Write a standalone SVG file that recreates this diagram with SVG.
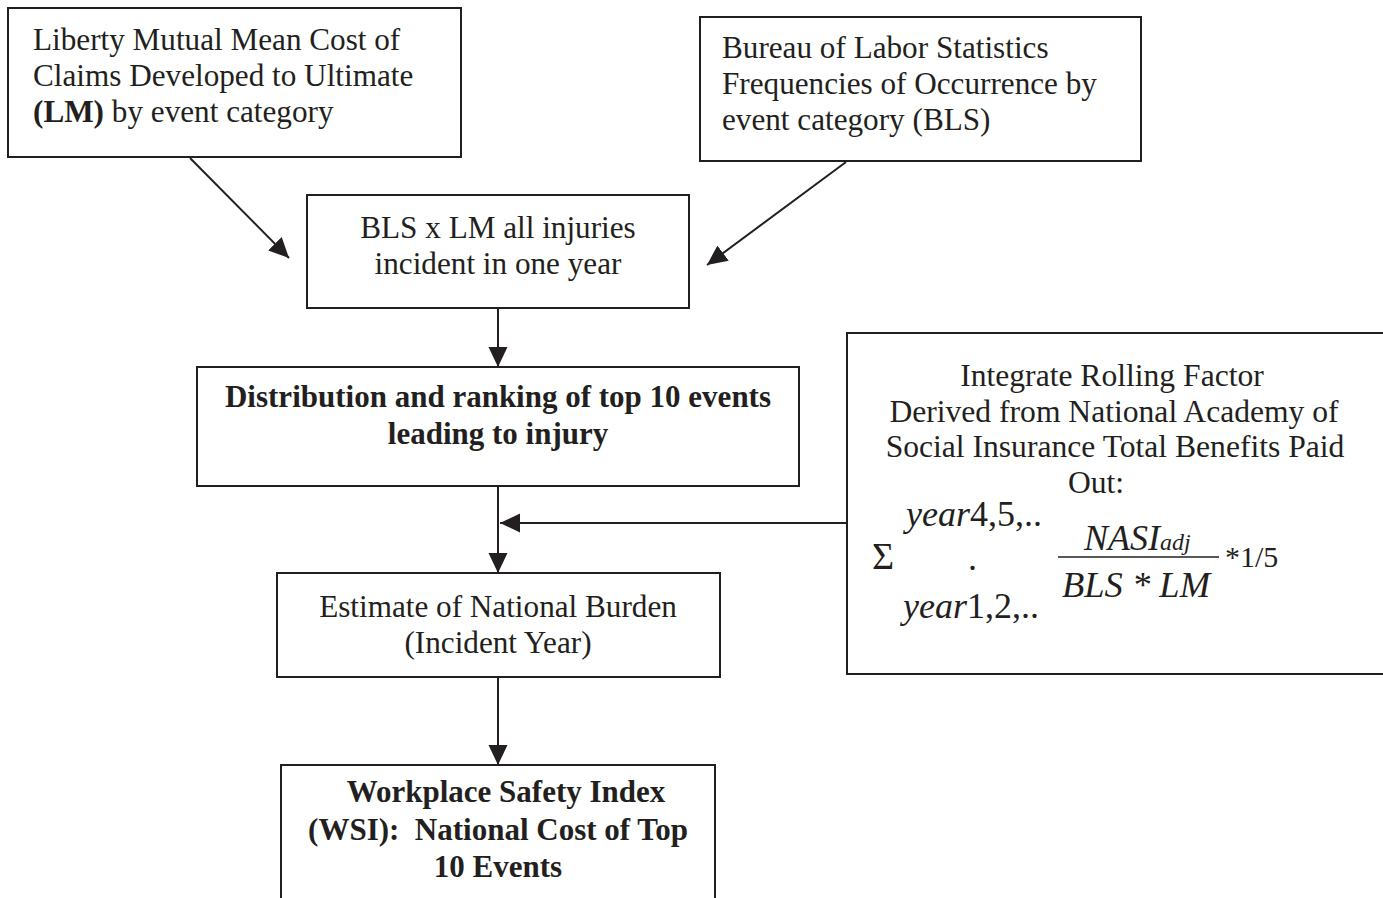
<svg xmlns="http://www.w3.org/2000/svg" width="1383" height="898" viewBox="0 0 1383 898">
<style>
.box{fill:#fff;stroke:#231f20;stroke-width:2}
.t{font-family:"Liberation Serif","Times New Roman",serif;font-size:31.2px;fill:#231f20}
.b{font-weight:bold;font-size:31px}
.c{text-anchor:middle}
.i{font-style:italic}
.con{stroke:#231f20;stroke-width:2;fill:none;marker-end:url(#ah)}
</style>
<defs>
<marker id="ah" markerUnits="userSpaceOnUse" markerWidth="21" markerHeight="20" refX="20" refY="9.5" orient="auto">
<path d="M0,0 L20,9.5 L0,19 z" fill="#231f20"/>
</marker>
</defs>
<rect width="1383" height="898" fill="#fff"/>
<g id="n-lm">
<rect class="box" x="8" y="8" width="453" height="149"/>
<text class="t" x="33" y="50">Liberty Mutual Mean Cost of</text>
<text class="t" x="33" y="86">Claims Developed to Ultimate</text>
<text class="t" x="33" y="122"><tspan font-weight="bold">(LM)</tspan> by event category</text>
</g>
<g id="n-bls">
<rect class="box" x="700" y="17" width="441" height="144"/>
<text class="t" x="722" y="58">Bureau of Labor Statistics</text>
<text class="t" x="722" y="94">Frequencies of Occurrence by</text>
<text class="t" x="722" y="130">event category (BLS)</text>
</g>
<g id="n-product">
<rect class="box" x="307" y="195" width="382" height="113"/>
<text class="t c" x="498" y="238">BLS x LM all injuries</text>
<text class="t c" x="498" y="274">incident in one year</text>
</g>
<g id="n-dist">
<rect class="box" x="197" y="367" width="602" height="119"/>
<text class="t b c" x="498" y="407">Distribution and ranking of top 10 events</text>
<text class="t b c" x="498" y="444">leading to injury</text>
</g>
<g id="n-factor">
<rect class="box" x="847" y="333" width="560" height="341"/>
<text class="t c" x="1112" y="386" style="font-size:31.6px">Integrate Rolling Factor</text>
<text class="t c" x="1114" y="422" style="font-size:31.6px">Derived from National Academy of</text>
<text class="t c" x="1115" y="457" style="font-size:31.6px">Social Insurance Total Benefits Paid</text>
<text class="t c" x="1096" y="493" style="font-size:31.6px">Out:</text>
<text class="t" x="872" y="569" style="font-size:38px">Σ</text>
<text class="t" x="906" y="526" style="font-size:36px"><tspan class="i">year</tspan>4,5,..</text>
<text class="t" x="968" y="570" style="font-size:36px">.</text>
<text class="t" x="903" y="618" style="font-size:36px"><tspan class="i">year</tspan>1,2,..</text>
<text class="t i" x="1084" y="550" style="font-size:36px">NASI<tspan style="font-size:24px">adj</tspan></text>
<line x1="1058" y1="557" x2="1219" y2="557" stroke="#231f20" stroke-width="1.5"/>
<text class="t i" x="1062" y="597" style="font-size:36.5px">BLS * LM</text>
<text class="t" x="1225" y="567" style="font-size:30px">*1/5</text>
</g>
<g id="n-burden">
<rect class="box" x="277" y="573" width="443" height="104"/>
<text class="t c" x="498" y="617">Estimate of National Burden</text>
<text class="t c" x="498" y="653">(Incident Year)</text>
</g>
<g id="n-wsi">
<rect class="box" x="281" y="765" width="434" height="160"/>
<text class="t b c" x="506" y="802">Workplace Safety Index</text>
<text class="t b c" x="498" y="840" xml:space="preserve">(WSI):  National Cost of Top</text>
<text class="t b c" x="498" y="877">10 Events</text>
</g>
<g id="connectors">
<line class="con" x1="190" y1="158" x2="289" y2="258"/>
<line class="con" x1="846" y1="162" x2="707" y2="265"/>
<line class="con" x1="498" y1="308" x2="498" y2="367"/>
<line class="con" x1="498" y1="486" x2="498" y2="573"/>
<line class="con" x1="847" y1="523" x2="500" y2="523"/>
<line class="con" x1="498" y1="677" x2="498" y2="765"/>
</g>
</svg>
